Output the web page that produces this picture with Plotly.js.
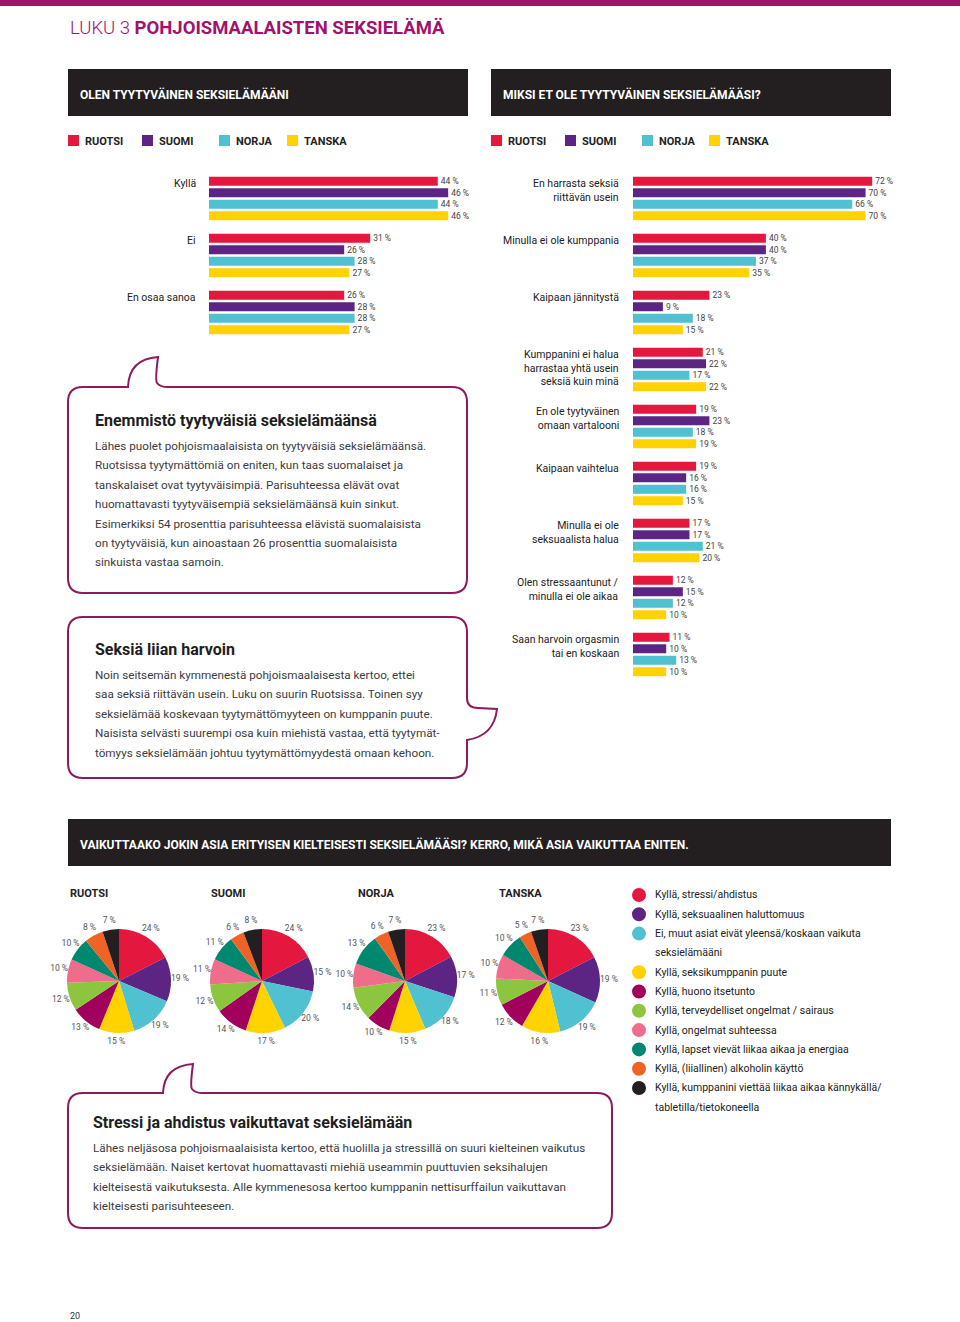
<!DOCTYPE html>
<html><head><meta charset="utf-8">
<script src="https://cdn.plot.ly/plotly-3.0.1.min.js"></script>
<style>html,body{margin:0;padding:0;background:#fff}#chart{width:960px;height:1322px}</style>
</head><body><div id="chart"></div><script>
// ---------- DATA ----------
const countries = ['RUOTSI', 'SUOMI', 'NORJA', 'TANSKA'];
const countryColors = ['#e4173e', '#5c2483', '#4fc1d0', '#ffd200'];

const satisfiedCategories = ['Kyllä', 'Ei', 'En osaa sanoa'];
const satisfiedRuotsi = [44, 31, 26];
const satisfiedSuomi = [46, 26, 28];
const satisfiedNorja = [44, 28, 28];
const satisfiedTanska = [46, 27, 27];

const reasonCategories = [
  'En harrasta seksiä<br>riittävän usein',
  'Minulla ei ole kumppania',
  'Kaipaan jännitystä',
  'Kumppanini ei halua<br>harrastaa yhtä usein<br>seksiä kuin minä',
  'En ole tyytyväinen<br>omaan vartalooni',
  'Kaipaan vaihtelua',
  'Minulla ei ole<br>seksuaalista halua',
  'Olen stressaantunut /<br>minulla ei ole aikaa',
  'Saan harvoin orgasmin<br>tai en koskaan'
];
const reasonRuotsi = [72, 40, 23, 21, 19, 19, 17, 12, 11];
const reasonSuomi  = [70, 40, 9, 22, 23, 16, 17, 15, 10];
const reasonNorja  = [66, 37, 18, 17, 18, 16, 21, 12, 13];
const reasonTanska = [70, 35, 15, 22, 19, 15, 20, 10, 10];

const impactCategories = [
  'Kyllä, stressi/ahdistus',
  'Kyllä, seksuaalinen haluttomuus',
  'Ei, muut asiat eivät yleensä/koskaan vaikuta<br>seksielämääni',
  'Kyllä, seksikumppanin puute',
  'Kyllä, huono itsetunto',
  'Kyllä, terveydelliset ongelmat / sairaus',
  'Kyllä, ongelmat suhteessa',
  'Kyllä, lapset vievät liikaa aikaa ja energiaa',
  'Kyllä, (liiallinen) alkoholin käyttö',
  'Kyllä, kumppanini viettää liikaa aikaa kännykällä/<br>tabletilla/tietokoneella'
];
const impactColors = ['#e4173e', '#5c2483', '#4fc1d0', '#ffd200', '#a2005d', '#8cc63e', '#ef6d8b', '#00876f', '#ef6425', '#231f20'];
const impactRuotsi = [24, 19, 19, 15, 13, 12, 10, 10, 8, 7];
const impactSuomi  = [24, 15, 20, 17, 14, 12, 11, 11, 6, 8];
const impactNorja  = [23, 17, 18, 15, 10, 14, 10, 13, 6, 7];
const impactTanska = [23, 19, 19, 16, 12, 11, 10, 10, 5, 7];

// ---------- LAYOUT HELPERS ----------
const W = 960, H = 1322;
const FONT = 'Roboto, "Open Sans", sans-serif';
const px = x => x / W;
const py = y => 1 - y / H;
const conv = s => s.replace(/(-?\d+\.?\d*),(-?\d+\.?\d*)/g, (m, a, b) => px(+a).toFixed(5) + ',' + py(+b).toFixed(5));
function T(x, y, text, o) {
  o = o || {};
  const f = {family: o.family || FONT, size: o.size || 12, color: o.color || '#222'};
  if (o.weight) f.weight = o.weight;
  return {xref: 'paper', yref: 'paper', x: px(x), y: py(y), text: text, showarrow: false,
    xanchor: o.xanchor || 'left', yanchor: o.yanchor || 'middle', align: o.align || 'left', font: f};
}
function rect(x0, y0, x1, y1, color) {
  return {type: 'rect', xref: 'paper', yref: 'paper', x0: px(x0), x1: px(x1), y0: py(y1), y1: py(y0),
    fillcolor: color, line: {width: 0}, layer: 'below'};
}

const shapes = [];
const annotations = [];

// top strip & title
shapes.push(rect(0, 0, 960, 6, '#a0126b'));
annotations.push(T(68, 28, 'LUKU 3 <b>POHJOISMAALAISTEN SEKSIELÄMÄ</b>', {size: 18.5, color: '#a0126b', weight: 300}));

// black header bars
shapes.push(rect(68, 69, 468, 116, '#231f20'));
shapes.push(rect(491, 69, 891, 116, '#231f20'));
shapes.push(rect(68, 819, 891, 866, '#231f20'));
annotations.push(T(78, 94, '<b>OLEN TYYTYVÄINEN SEKSIELÄMÄÄNI</b>', {color: '#fff', size: 12}));
annotations.push(T(501, 94, '<b>MIKSI ET OLE TYYTYVÄINEN SEKSIELÄMÄÄSI?</b>', {color: '#fff', size: 12}));
annotations.push(T(78, 844, '<b>VAIKUTTAAKO JOKIN ASIA ERITYISEN KIELTEISESTI SEKSIELÄMÄÄSI? KERRO, MIKÄ ASIA VAIKUTTAA ENITEN.</b>', {color: '#fff', size: 12}));

// country legends (two)
const legLeftX = [68, 142, 219, 287];
const legRightX = [491, 565, 642, 709];
countries.forEach((c, i) => {
  [legLeftX, legRightX].forEach(arr => {
    shapes.push(rect(arr[i], 135, arr[i] + 11, 146, countryColors[i]));
    annotations.push(T(arr[i] + 15, 141, '<b>' + c + '</b>', {size: 11}));
  });
});

// category labels for bar charts
satisfiedCategories.forEach((c, i) => {
  annotations.push({xref: 'paper', x: px(198), xanchor: 'right', yref: 'y', y: i, yanchor: 'top', yshift: 24,
    align: 'right', text: c, showarrow: false, font: {family: FONT, size: 10.5, color: '#222'}});
});
reasonCategories.forEach((c, i) => {
  annotations.push({xref: 'paper', x: px(621), xanchor: 'right', yref: 'y2', y: i, yanchor: 'top', yshift: 24,
    align: 'right', text: c, showarrow: false, font: {family: FONT, size: 10.5, color: '#222'}});
});

// speech bubbles
const BOX = '#8c1a5c';
const box1 = 'M 83,387 L 128,387 Q 129,359 158,357 Q 155,380 157,383 Q 160,387 168,387 L 452,387 Q 467,387 467,402 L 467,578 Q 467,593 452,593 L 83,593 Q 68,593 68,578 L 68,402 Q 68,387 83,387 Z';
const box2 = 'M 83,617 L 452,617 Q 467,617 467,632 L 467,698 Q 467,708 478,708 L 497,709 Q 494,736 467,740 L 467,763 Q 467,778 452,778 L 83,778 Q 68,778 68,763 L 68,632 Q 68,617 83,617 Z';
const box3 = 'M 83,1093 L 163,1093 Q 164,1066 193,1064 Q 190,1086 192,1089 Q 195,1093 203,1093 L 597,1093 Q 612,1093 612,1108 L 612,1213 Q 612,1228 597,1228 L 83,1228 Q 68,1228 68,1213 L 68,1108 Q 68,1093 83,1093 Z';
[box1, box2, box3].forEach(p => shapes.push({type: 'path', xref: 'paper', yref: 'paper', path: conv(p),
  line: {color: BOX, width: 2}, fillcolor: 'rgba(0,0,0,0)', layer: 'above'}));

function para(x, y0, heading, lines) {
  annotations.push(T(x, y0, '<b>' + heading + '</b>', {size: 16, color: '#1e1e1e'}));
  lines.forEach((l, k) => annotations.push(T(x, y0 + 26 + k * 19.4, l, {size: 11.7, color: '#3c3c3c'})));
}
para(93, 420, 'Enemmistö tyytyväisiä seksielämäänsä', [
  'Lähes puolet pohjoismaalaisista on tyytyväisiä seksielämäänsä.',
  'Ruotsissa tyytymättömiä on eniten, kun taas suomalaiset ja',
  'tanskalaiset ovat tyytyväisimpiä. Parisuhteessa elävät ovat',
  'huomattavasti tyytyväisempiä seksielämäänsä kuin sinkut.',
  'Esimerkiksi 54 prosenttia parisuhteessa elävistä suomalaisista',
  'on tyytyväisiä, kun ainoastaan 26 prosenttia suomalaisista',
  'sinkuista vastaa samoin.'
]);
para(93, 649, 'Seksiä liian harvoin', [
  'Noin seitsemän kymmenestä pohjoismaalaisesta kertoo, ettei',
  'saa seksiä riittävän usein. Luku on suurin Ruotsissa. Toinen syy',
  'seksielämää koskevaan tyytymättömyyteen on kumppanin puute.',
  'Naisista selvästi suurempi osa kuin miehistä vastaa, että tyytymät-',
  'tömyys seksielämään johtuu tyytymättömyydestä omaan kehoon.'
]);
para(91, 1122, 'Stressi ja ahdistus vaikuttavat seksielämään', [
  'Lähes neljäsosa pohjoismaalaisista kertoo, että huolilla ja stressillä on suuri kielteinen vaikutus',
  'seksielämään. Naiset kertovat huomattavasti miehiä useammin puuttuvien seksihalujen',
  'kielteisestä vaikutuksesta. Alle kymmenesosa kertoo kumppanin nettisurffailun vaikuttavan',
  'kielteisesti parisuhteeseen.'
]);

// pie titles
const pieCX = [119, 262, 405, 548];
const pieTitleX = [68, 209, 356, 497];
countries.forEach((c, i) => annotations.push(T(pieTitleX[i], 893, '<b>' + c + '</b>', {size: 11})));

// pie legend
let ly = 895;
impactCategories.forEach((c, i) => {
  shapes.push({type: 'circle', xref: 'paper', yref: 'paper', x0: px(632), x1: px(646), y0: py(ly + 7), y1: py(ly - 7),
    fillcolor: impactColors[i], line: {width: 0}});
  c.split('<br>').forEach(line => {
    annotations.push(T(653, ly, line, {size: 10.5, color: '#222'}));
    ly += 19.3;
  });
});

annotations.push(T(68, 1316, '20', {size: 9, color: '#333'}));

// ---------- TRACES ----------
const traces = [];
const satSeries = [satisfiedRuotsi, satisfiedSuomi, satisfiedNorja, satisfiedTanska];
const reaSeries = [reasonRuotsi, reasonSuomi, reasonNorja, reasonTanska];
const barText = {family: FONT, size: 8.5, color: '#444'};
countries.forEach((c, i) => {
  traces.push({type: 'bar', orientation: 'h', name: c, y: satisfiedCategories, x: satSeries[i],
    xaxis: 'x', yaxis: 'y', marker: {color: countryColors[i], line: {width: 0}},
    texttemplate: '%{x} %', textposition: 'outside', textfont: barText, cliponaxis: false, constraintext: 'none', hoverinfo: 'skip'});
  traces.push({type: 'bar', orientation: 'h', name: c, y: reasonCategories, x: reaSeries[i],
    xaxis: 'x2', yaxis: 'y2', marker: {color: countryColors[i], line: {width: 0}},
    texttemplate: '%{x} %', textposition: 'outside', textfont: barText, cliponaxis: false, constraintext: 'none', hoverinfo: 'skip'});
});

const impSeries = [impactRuotsi, impactSuomi, impactNorja, impactTanska];
const PIE_CY = 981, PIE_R = 52, POLAR_R = 80, LABEL_R = 61;
const polars = {};
impSeries.forEach((vals, i) => {
  traces.push({type: 'pie', labels: impactCategories, values: vals, sort: false, direction: 'clockwise', rotation: 0,
    marker: {colors: impactColors, line: {width: 0}}, textinfo: 'none', showlegend: false, hoverinfo: 'skip',
    domain: {x: [px(pieCX[i] - PIE_R), px(pieCX[i] + PIE_R)], y: [py(PIE_CY + PIE_R), py(PIE_CY - PIE_R)]}});
  // value labels placed around the pie through a polar subplot (angle = slice middle)
  const total = vals.reduce((a, b) => a + b, 0);
  let cum = 0;
  const theta = vals.map(v => { const t = (cum + v / 2) / total * 360; cum += v; return t; });
  const pid = 'polar' + (i ? i + 1 : '');
  traces.push({type: 'scatterpolar', subplot: pid, mode: 'text', r: vals.map(() => LABEL_R), theta: theta,
    text: vals.map(v => v + ' %'), textposition: 'middle center', textfont: {family: FONT, size: 8.5, color: '#555'},
    cliponaxis: false, showlegend: false, hoverinfo: 'skip'});
  polars[pid] = {
    domain: {x: [px(pieCX[i] - POLAR_R), px(pieCX[i] + POLAR_R)], y: [py(PIE_CY + POLAR_R), py(PIE_CY - POLAR_R)]},
    bgcolor: 'rgba(0,0,0,0)',
    radialaxis: {range: [0, POLAR_R], visible: false, showgrid: false, showline: false, showticklabels: false, ticks: ''},
    angularaxis: {rotation: 90, direction: 'clockwise', visible: false, showgrid: false, showline: false, showticklabels: false, ticks: ''}
  };
});

const layout = Object.assign({
  width: W, height: H, autosize: false, margin: {l: 0, r: 0, t: 0, b: 0, pad: 0},
  paper_bgcolor: '#ffffff', plot_bgcolor: 'rgba(0,0,0,0)', showlegend: false,
  font: {family: FONT, color: '#222'},
  barmode: 'group', bargap: 0.19, bargroupgap: 0.22,
  xaxis: {domain: [px(209), px(729)], range: [0, 100], visible: false, fixedrange: true, anchor: 'y'},
  yaxis: {domain: [py(341), py(170)], type: 'category', range: [2.5, -0.5], visible: false, fixedrange: true, anchor: 'x'},
  xaxis2: {domain: [px(633), px(932)], range: [0, 90], visible: false, fixedrange: true, anchor: 'y2'},
  yaxis2: {domain: [py(683), py(170)], type: 'category', range: [8.5, -0.5], visible: false, fixedrange: true, anchor: 'x2'},
  shapes: shapes, annotations: annotations
}, polars);
Plotly.newPlot('chart', traces, layout, {displayModeBar: false, staticPlot: true});
</script></body></html>
